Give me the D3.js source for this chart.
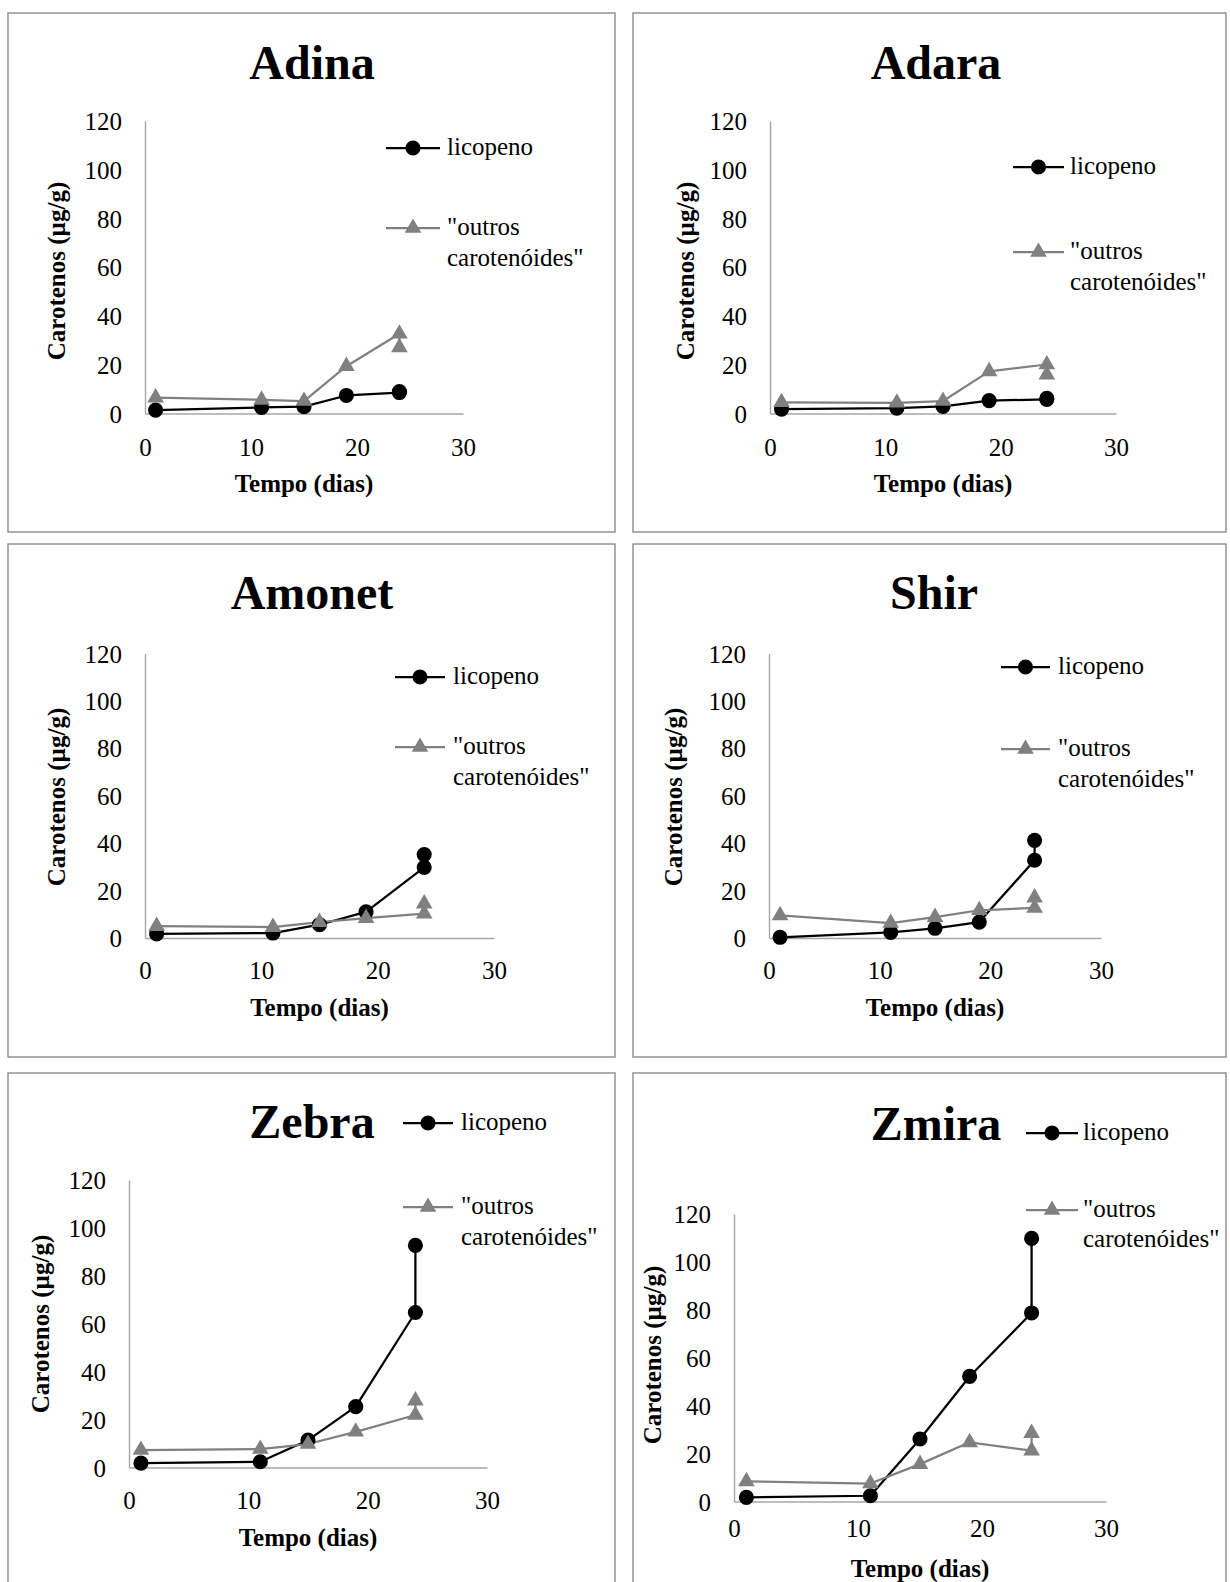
<!DOCTYPE html>
<html>
<head>
<meta charset="utf-8">
<script src="https://cdn.jsdelivr.net/npm/d3@7"></script>
<style>
  html, body { margin: 0; padding: 0; background: #ffffff; }
  svg { display: block; }
  text { font-family: "Liberation Serif", "Times New Roman", serif; fill: #000; }
</style>
</head>
<body>
<svg id="chart" width="1230" height="1582"></svg>
<script>
// Sampling days (the last day was measured twice)
const days = [1, 11, 15, 19, 24, 24];

// Cultivar names, one panel each
const cultivars = ["Adina", "Adara", "Amonet", "Shir", "Zebra", "Zmira"];

// Licopeno (µg/g) per cultivar
const licopenoAdina  = [1.4, 2.5, 2.8, 7.4, 8.6, 9.0];
const licopenoAdara  = [1.8, 2.2, 2.9, 5.3, 5.8, 6.2];
const licopenoAmonet = [1.7, 2.1, 5.6, 11.0, 29.8, 35.2];
const licopenoShir   = [0.3, 2.4, 4.1, 6.7, 32.8, 41.2];
const licopenoZebra  = [1.8, 2.4, 11.4, 25.4, 64.7, 92.7];
const licopenoZmira  = [1.7, 2.4, 26.1, 52.2, 78.7, 109.8];

// "Outros carotenóides" (µg/g) per cultivar
const outrosAdina  = [6.5, 5.6, 5.1, 19.4, 32.7, 27.1];
const outrosAdara  = [4.6, 4.4, 5.1, 17.3, 20.1, 15.9];
const outrosAmonet = [5.0, 4.6, 6.7, 8.4, 10.3, 14.5];
const outrosShir   = [9.5, 6.3, 8.8, 11.7, 12.7, 17.0];
const outrosZebra  = [7.3, 7.7, 9.8, 14.9, 21.9, 27.9];
const outrosZmira  = [8.4, 7.5, 15.6, 24.7, 21.2, 28.5];

// Axis ticks
const xTicks = [0, 10, 20, 30];
const yTicks = [0, 20, 40, 60, 80, 100, 120];

// Text
const seriesNames = ["licopeno", "\"outros", "carotenóides\""];
const xTitle = "Tempo (dias)";
const yTitle = "Carotenos (µg/g)";

const licopeno = [licopenoAdina, licopenoAdara, licopenoAmonet, licopenoShir, licopenoZebra, licopenoZmira];
const outros = [outrosAdina, outrosAdara, outrosAmonet, outrosShir, outrosZebra, outrosZmira];

// Panel layout: frame, plot area, title, legend and axis-title placement
const layout = [
  { frame: [8, 13, 615, 532],   plot: [145, 463, 121, 413.5],  title: [312, 63],
    legend: { x1: 386, x2: 440, tx: 447, y1: 148, y2: 228, y3: 259 }, yLab: [58, 271], xTickY: 447, xLabY: 485 },
  { frame: [633, 13, 1226, 532], plot: [770, 1116, 121, 413.5], title: [936, 63],
    legend: { x1: 1013, x2: 1064, tx: 1070, y1: 167, y2: 252, y3: 283 }, yLab: [687, 271], xTickY: 447, xLabY: 485 },
  { frame: [8, 544, 615, 1057],  plot: [145, 494, 653.5, 938], title: [312, 593],
    legend: { x1: 395, x2: 445, tx: 453, y1: 677, y2: 747, y3: 778 }, yLab: [58, 797], xTickY: 970, xLabY: 1009 },
  { frame: [633, 544, 1226, 1057], plot: [769, 1101, 653.5, 938], title: [934, 593],
    legend: { x1: 1001, x2: 1050, tx: 1058, y1: 667, y2: 749, y3: 780 }, yLab: [675, 797], xTickY: 970, xLabY: 1009 },
  { frame: [8, 1073, 615, 1620], plot: [129, 487, 1180, 1467.5], title: [312, 1122],
    legend: { x1: 403, x2: 453, tx: 461, y1: 1123, y2: 1207, y3: 1238 }, yLab: [42, 1324], xTickY: 1500, xLabY: 1539 },
  { frame: [633, 1073, 1226, 1620], plot: [734, 1106, 1214, 1501.5], title: [936, 1124],
    legend: { x1: 1026, x2: 1078, tx: 1083, y1: 1133, y2: 1210, y3: 1240 }, yLab: [654, 1355], xTickY: 1528, xLabY: 1570 }
];

const BLACK = "#000000";
const GRAY = "#808080";
const AXIS = "#a6a6a6";
const FRAME = "#8c8c8c";

const svg = d3.select("#chart");
const circle = d3.symbol().type(d3.symbolCircle).size(180);
const triangle = d3.symbol().type(d3.symbolTriangle).size(120);

cultivars.forEach((name, i) => {
  const L = layout[i];
  const g = svg.append("g");

  // frame
  g.append("rect")
    .attr("x", L.frame[0]).attr("y", L.frame[1])
    .attr("width", L.frame[2] - L.frame[0]).attr("height", L.frame[3] - L.frame[1])
    .attr("fill", "#fff").attr("stroke", FRAME).attr("stroke-width", 1.4);

  const x = d3.scaleLinear().domain([0, 30]).range([L.plot[0], L.plot[1]]);
  const y = d3.scaleLinear().domain([0, 120]).range([L.plot[3], L.plot[2]]);

  // axes
  const xAxis = g.append("g").attr("transform", `translate(0,${y(0)})`)
    .call(d3.axisBottom(x).tickValues(xTicks).tickSize(0).tickPadding(0));
  const yAxis = g.append("g").attr("transform", `translate(${x(0)},0)`)
    .call(d3.axisLeft(y).tickValues(yTicks).tickSize(0).tickPadding(23));
  [xAxis, yAxis].forEach(a => {
    a.select(".domain").attr("stroke", AXIS).attr("stroke-width", 1.4);
    a.selectAll("text").attr("font-family", "Liberation Serif").attr("font-size", 25).attr("fill", "#000");
  });
  xAxis.selectAll("text").attr("dy", null).attr("y", L.xTickY - y(0) + 8.5);
  yAxis.selectAll("text").attr("dy", "0.34em");

  // title
  g.append("text").attr("x", L.title[0]).attr("y", L.title[1] + 16)
    .attr("text-anchor", "middle").attr("font-size", 48).attr("font-weight", "bold")
    .text(name);

  // axis titles
  g.append("text").attr("x", (L.plot[0] + L.plot[1]) / 2).attr("y", L.xLabY + 7)
    .attr("text-anchor", "middle").attr("font-size", 25).attr("font-weight", "bold")
    .text(xTitle);
  g.append("text")
    .attr("transform", `translate(${L.yLab[0] + 7},${L.yLab[1]}) rotate(-90)`)
    .attr("text-anchor", "middle").attr("font-size", 25).attr("font-weight", "bold")
    .text(yTitle);

  const line = d3.line().x((d, k) => x(days[k])).y(d => y(d));

  // series: licopeno (black circles), outros carotenóides (gray triangles)
  const series = [
    { values: licopeno[i], color: BLACK, sym: circle },
    { values: outros[i], color: GRAY, sym: triangle }
  ];
  series.forEach(s => {
    g.append("path").datum(s.values).attr("d", line)
      .attr("fill", "none").attr("stroke", s.color).attr("stroke-width", 2.25)
      .attr("stroke-linejoin", "round");
  });
  series.forEach(s => {
    g.selectAll(null).data(s.values).enter().append("path")
      .attr("d", s.sym)
      .attr("transform", (d, k) => `translate(${x(days[k])},${y(d)})`)
      .attr("fill", s.color);
  });

  // legend
  const lg = L.legend;
  const mx = (lg.x1 + lg.x2) / 2;
  g.append("line").attr("x1", lg.x1).attr("x2", lg.x2).attr("y1", lg.y1).attr("y2", lg.y1)
    .attr("stroke", BLACK).attr("stroke-width", 2.25);
  g.append("path").attr("d", circle).attr("transform", `translate(${mx},${lg.y1})`).attr("fill", BLACK);
  g.append("text").attr("x", lg.tx).attr("y", lg.y1 + 7).attr("font-size", 25).text(seriesNames[0]);

  g.append("line").attr("x1", lg.x1).attr("x2", lg.x2).attr("y1", lg.y2).attr("y2", lg.y2)
    .attr("stroke", GRAY).attr("stroke-width", 2.25);
  g.append("path").attr("d", triangle).attr("transform", `translate(${mx},${lg.y2})`).attr("fill", GRAY);
  g.append("text").attr("x", lg.tx).attr("y", lg.y2 + 7).attr("font-size", 25).text(seriesNames[1]);
  g.append("text").attr("x", lg.tx).attr("y", lg.y3 + 7).attr("font-size", 25).text(seriesNames[2]);
});
</script>
</body>
</html>
